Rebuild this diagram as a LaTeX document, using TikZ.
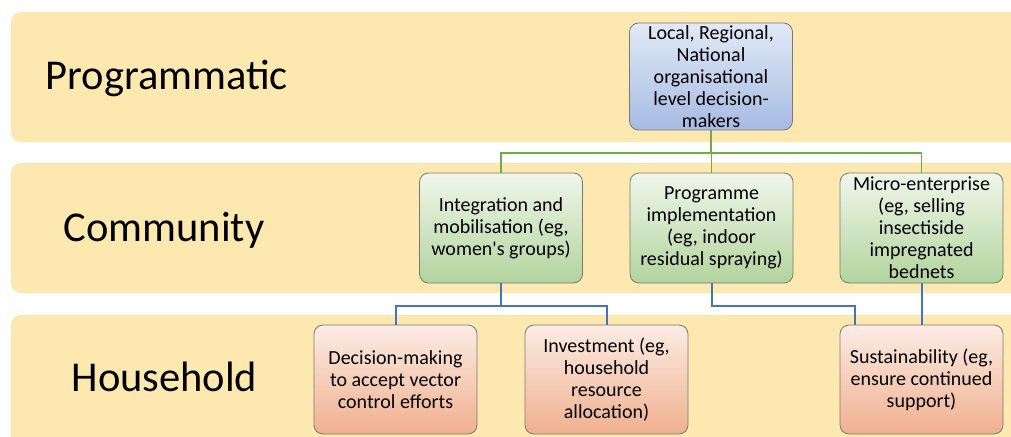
\documentclass[tikz,border=0pt]{standalone}
\usepackage{fontspec}
\setmainfont{Carlito}
\definecolor{bandc}{RGB}{253,233,176}
\definecolor{bluetop}{RGB}{226,233,246}
\definecolor{bluebot}{RGB}{166,187,226}
\definecolor{greentop}{RGB}{240,246,235}
\definecolor{greenbot}{RGB}{178,212,156}
\definecolor{orgtop}{RGB}{252,236,228}
\definecolor{orgbot}{RGB}{240,176,142}
\definecolor{bordc}{RGB}{120,120,120}
\definecolor{gline}{RGB}{112,173,71}
\definecolor{bline}{RGB}{68,114,196}
\tikzset{
  band/.style={fill=bandc, draw=none, rounded corners=10pt},
  lvl/.style={anchor=base west, font=\fontsize{42.5}{50}\selectfont},
  box/.style={draw=bordc, line width=0.8pt, rounded corners=9pt, align=center,
    minimum width=163pt, minimum height=109pt, inner sep=0pt,
    font=\fontsize{20}{22}\selectfont, shading=axis},
  bluebox/.style={box, top color=bluetop, bottom color=bluebot},
  greenbox/.style={box, top color=greentop, bottom color=greenbot},
  orgbox/.style={box, top color=orgtop, bottom color=orgbot},
  gconn/.style={draw=gline, line width=1.5pt},
  bconn/.style={draw=bline, line width=2pt},
}
\begin{document}
\begin{tikzpicture}[x=1pt, y=-1pt]
\useasboundingbox (0,0) rectangle (1011,436);
\clip (0,0) rectangle (1011,436);
\fill[white] (0,0) rectangle (1011,436);
% bands
\path[band] (11,12) rectangle (1030,142);
\path[band] (11,163) rectangle (1030,293);
\path[band] (11,315) rectangle (1030,460);
% level labels
\node[lvl] (lp) at (42,89) {Programmatic};
\node[lvl] (lc) at (60,241) {Community};
\node[lvl] (lh) at (68,391) {Household};
% nodes
\node[bluebox, minimum height=107pt] (top) at (711,76.5) {Local, Regional,\\National\\organisational\\level decision-\\makers};
\node[greenbox, minimum height=110pt] (integ) at (501,228) {Integration and\\mobilisation (eg,\\women\textquotesingle s groups)};
\node[greenbox, minimum height=110pt] (prog) at (711.5,228) {Programme\\implementation\\(eg, indoor\\residual spraying)};
\node[greenbox, minimum height=110pt] (micro) at (921.5,228) {Micro-enterprise\\(eg, selling\\insectiside\\impregnated\\bednets};
\node[orgbox] (dec) at (395.5,379.5) {Decision-making\\to accept vector\\control efforts};
\node[orgbox] (inv) at (606.5,379.5) {Investment (eg,\\household\\resource\\allocation)};
\node[orgbox] (sus) at (921.5,379.5) {Sustainability (eg,\\ensure continued\\support)};
% connectors
\coordinate (gj) at (711,153);
\draw[gconn] (top.south) -- (gj);
\draw[gconn] (integ.north) |- (gj) -| (micro.north);
\draw[gconn] (prog.north) -- (prog.north |- gj);
\coordinate (bj1) at (501,305.5);
\draw[bconn] (integ.south) -- (bj1);
\draw[bconn] (dec.north) |- (bj1) -| (inv.north);
\coordinate (bj2) at (855,305.5);
\draw[bconn] (prog.south) |- (bj2) -- (bj2 |- sus.north);
\draw[bconn] (micro.south) -- (sus.north);
\end{tikzpicture}
\end{document}
